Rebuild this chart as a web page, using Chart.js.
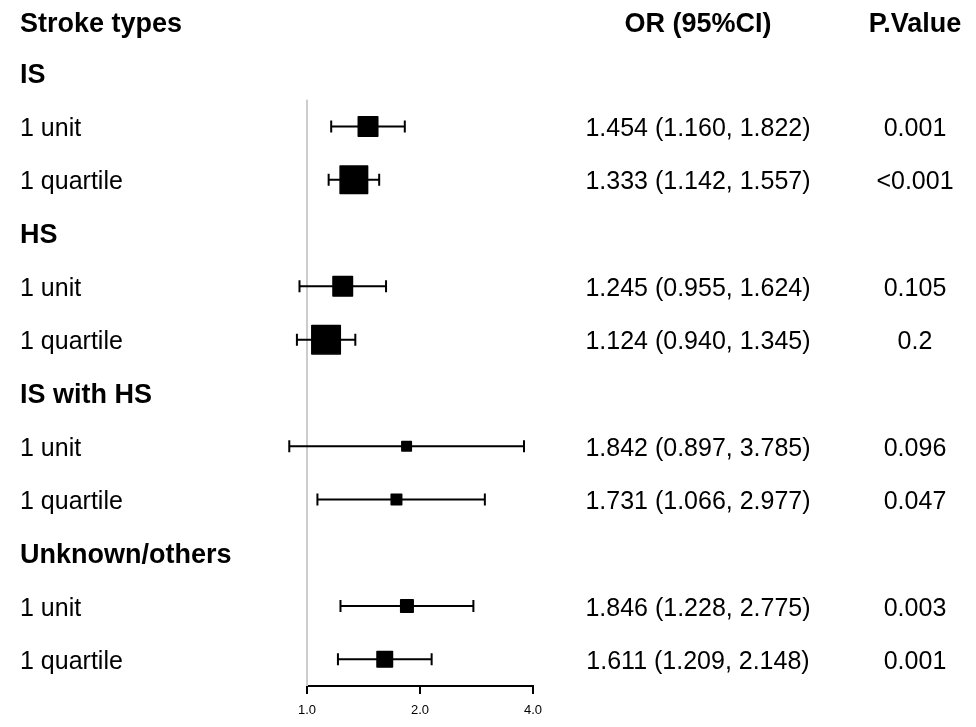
<!DOCTYPE html>
<html><head><meta charset="utf-8">
<script src="https://cdn.jsdelivr.net/npm/chart.js@4/dist/chart.umd.min.js"></script>
<style>html,body{margin:0;padding:0;background:#fff;} canvas{display:block;}</style>
</head><body>
<canvas id="c" width="976" height="727"></canvas>
<script>
// ---- data ----
const groups = ['IS', 'HS', 'IS with HS', 'Unknown/others'];
const subgroups = ['1 unit', '1 quartile'];
const oddsRatio = [1.454, 1.333, 1.245, 1.124, 1.842, 1.731, 1.846, 1.611];
const ciLower = [1.160, 1.142, 0.955, 0.940, 0.897, 1.066, 1.228, 1.209];
const ciUpper = [1.822, 1.557, 1.624, 1.345, 3.785, 2.977, 2.775, 2.148];
const pValues = ['0.001', '<0.001', '0.105', '0.2', '0.096', '0.047', '0.003', '0.001'];
const xTicks = [1, 2, 4];
const refValue = 1;
const headers = ['Stroke types', 'OR (95%CI)', 'P.Value'];

// ---- styling / layout ----
const boxSide = [21, 29, 21, 30, 11, 12, 14, 17];
const FONT = '"Liberation Sans", Arial, sans-serif';
const OR_COL_X = 698, P_COL_X = 915, LABEL_X = 20;

// build row table
const rows = [{ label: headers[0], kind: 'header' }];
const itemRow = [];
groups.forEach((g, gi) => {
  rows.push({ label: g, kind: 'group' });
  subgroups.forEach((s, si) => {
    const k = gi * subgroups.length + si;
    itemRow[k] = rows.length;
    rows.push({ label: s, kind: 'item', k });
  });
});

const points = oddsRatio.map((v, k) => ({ x: v, y: itemRow[k] }));

const forestPlugin = {
  id: 'forest',
  beforeDatasetsDraw(chart) {
    const { ctx, scales: { x: xs, y: ys }, chartArea } = chart;
    ctx.save();
    // reference line
    const rx = xs.getPixelForValue(refValue);
    ctx.strokeStyle = '#cccccc';
    ctx.lineWidth = 2;
    ctx.beginPath();
    ctx.moveTo(rx, ys.getPixelForValue(1.5));
    ctx.lineTo(rx, chartArea.bottom);
    ctx.stroke();
    // whiskers
    ctx.strokeStyle = '#000';
    ctx.lineWidth = 2;
    oddsRatio.forEach((v, k) => {
      const y = ys.getPixelForValue(itemRow[k]);
      const x1 = xs.getPixelForValue(ciLower[k]);
      const x2 = xs.getPixelForValue(ciUpper[k]);
      ctx.beginPath();
      ctx.moveTo(x1, y); ctx.lineTo(x2, y);
      ctx.moveTo(x1, y - 6); ctx.lineTo(x1, y + 6);
      ctx.moveTo(x2, y - 6); ctx.lineTo(x2, y + 6);
      ctx.stroke();
    });
    ctx.restore();
    ctx.lineJoin = 'round';
  },
  afterDraw(chart) {
    const { ctx, scales: { y: ys } } = chart;
    ctx.save();
    ctx.fillStyle = '#000';
    ctx.textBaseline = 'alphabetic';
    rows.forEach((r, i) => {
      const y = ys.getPixelForValue(i);
      if (r.kind === 'header') {
        ctx.font = 'bold 27px ' + FONT;
        ctx.textAlign = 'left';
        ctx.fillText(r.label, LABEL_X, y + 12);
        ctx.textAlign = 'center';
        ctx.fillText(headers[1], OR_COL_X, y + 12);
        ctx.fillText(headers[2], P_COL_X, y + 12);
      } else if (r.kind === 'group') {
        ctx.font = 'bold 27px ' + FONT;
        ctx.textAlign = 'left';
        ctx.fillText(r.label, LABEL_X, y + 10);
      } else {
        ctx.font = '25px ' + FONT;
        ctx.textAlign = 'left';
        ctx.fillText(r.label, LABEL_X, y + 9.5);
        const k = r.k;
        const txt = oddsRatio[k].toFixed(3) + ' (' + ciLower[k].toFixed(3) + ', ' + ciUpper[k].toFixed(3) + ')';
        ctx.textAlign = 'center';
        ctx.fillText(txt, OR_COL_X, y + 9.5);
        ctx.fillText(pValues[k], P_COL_X, y + 9.5);
      }
    });
    ctx.restore();
  }
};

new Chart(document.getElementById('c'), {
  type: 'scatter',
  data: {
    datasets: [{
      data: points,
      pointStyle: 'rect',
      pointRadius: boxSide.map(s => (s - 1.5) / Math.SQRT2),
      pointHoverRadius: boxSide.map(s => (s - 1.5) / Math.SQRT2),
      pointBorderWidth: 1.5,
      backgroundColor: '#000',
      borderColor: '#000',
      clip: false
    }]
  },
  options: {
    responsive: false,
    animation: false,
    events: [],
    layout: { autoPadding: false, padding: { left: 307, right: 443, top: 0, bottom: 0 } },
    plugins: { legend: { display: false }, tooltip: { enabled: false } },
    scales: {
      x: {
        type: 'logarithmic',
        min: 1, max: 4,
        position: 'bottom',
        afterBuildTicks: s => { s.ticks = xTicks.map(v => ({ value: v })); },
        afterFit: s => { s.height = 41; },
        grid: { display: true, drawOnChartArea: false, drawTicks: true, tickLength: 8, color: '#000', lineWidth: 2 },
        border: { display: true, color: '#000', width: 2 },
        ticks: {
          color: '#000', font: { family: FONT, size: 13 }, padding: 9,
          maxRotation: 0, autoSkip: false,
          callback: v => Number(v).toFixed(1)
        }
      },
      y: {
        type: 'linear', reverse: true, min: -0.3735, max: 12.5,
        display: false
      }
    }
  },
  plugins: [forestPlugin]
});
</script>
</body></html>
